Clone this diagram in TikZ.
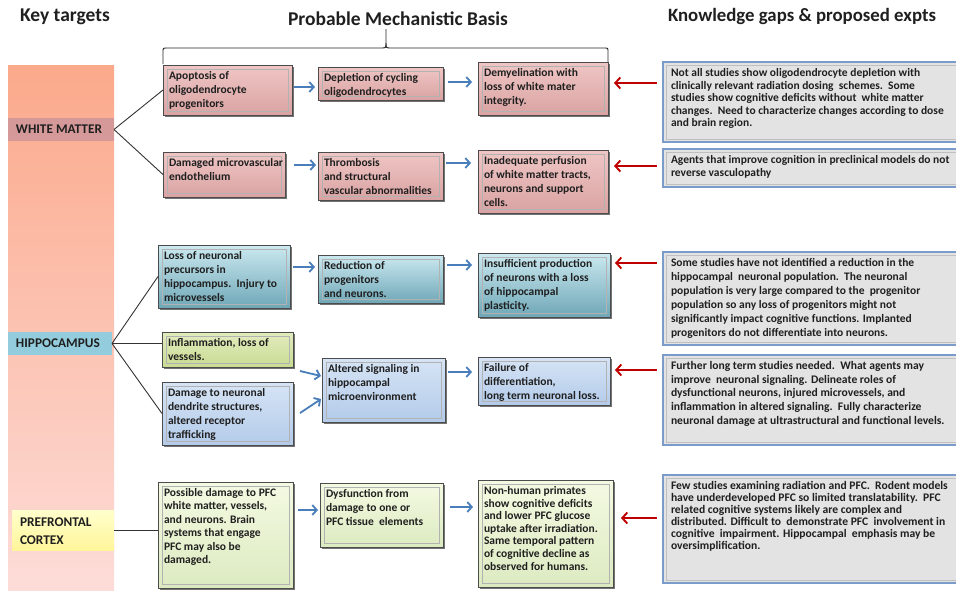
\documentclass[tikz,border=0pt]{standalone}
\usepackage{fontspec}
\setmainfont{Carlito}
\usetikzlibrary{arrows.meta,shadows,fit}
\definecolor{pinkT}{HTML}{EFC6C5}
\definecolor{pinkB}{HTML}{D9A3A2}
\definecolor{tealT}{HTML}{CBE9F0}
\definecolor{tealB}{HTML}{6FA7B7}
\definecolor{lbT}{HTML}{D6E4F5}
\definecolor{lbB}{HTML}{B3CBEA}
\definecolor{ygT}{HTML}{E2EDBE}
\definecolor{ygB}{HTML}{C9DB93}
\definecolor{pgT}{HTML}{F4FAE3}
\definecolor{pgB}{HTML}{DCEAC0}
\definecolor{grayfill}{HTML}{E3E3E3}
\definecolor{grayedge}{HTML}{7B9BCB}
\definecolor{arrblue}{HTML}{4A7EBB}
\definecolor{arrred}{HTML}{C00000}
\definecolor{barT}{HTML}{FBA98B}
\definecolor{barB}{HTML}{FDDCD8}
\definecolor{wmband}{HTML}{D6999A}
\definecolor{hpband}{HTML}{93CDDD}
\definecolor{pfT}{HTML}{FFFFCC}
\definecolor{pfB}{HTML}{FFF59A}
\definecolor{txt}{HTML}{1F1F1F}

\tikzset{
 every node/.style={inner sep=0pt, outer sep=0pt},
 boxbase/.style={draw=black!70, line width=0.8pt, drop shadow={shadow xshift=2.2pt, shadow yshift=-2.2pt, opacity=0.55, fill=black}},
 pinkbox/.style={boxbase, top color=pinkT, bottom color=pinkB},
 tealbox/.style={boxbase, top color=tealT, bottom color=tealB},
 lbbox/.style={boxbase, top color=lbT, bottom color=lbB},
 ygbox/.style={boxbase, top color=ygT, bottom color=ygB},
 pgbox/.style={boxbase, top color=pgT, bottom color=pgB},
 gapbox/.style={fill=grayfill, draw=grayedge, line width=1.4pt, drop shadow={shadow xshift=1pt, shadow yshift=-1pt, opacity=0.3, fill=black}},
 innerline/.style={draw=black!30, line width=0.5pt},
 ginnerline/.style={draw=black!25, line width=0.5pt},
 btxt/.style={anchor=north west, align=left, text=txt},
 bluearr/.style={draw=arrblue, line width=1.8pt, -{Straight Barb[length=4.5pt,width=10pt]}},
 redarr/.style={draw=arrred, line width=1.9pt, -{Straight Barb[length=5pt,width=11pt]}},
 link/.style={draw=black!80, line width=0.9pt},
 brace/.style={draw=black!85, line width=0.9pt},
 head/.style={font=\fontsize{19.5}{22}\selectfont\bfseries, text=txt},
 lab/.style={anchor=west, align=left, font=\fontsize{13.3}{18}\selectfont\bfseries, text=txt},
}

% name, style, x1, y1, x2, y2, baselineskip, text
\newcommand{\bx}[8]{%
 \node[#2, fit={(#3,#4) (#5,#6)}] (#1) {};
 \draw[innerline] ([shift={(4,4)}]#1.north west) rectangle ([shift={(-4,-4)}]#1.south east);
 \node[btxt, font=\fontsize{11.5}{#7}\selectfont\bfseries] (#1t) at ([shift={(6,6.5)}]#1.north west) {#8};
}
\newcommand{\gx}[6]{%
 \node[gapbox, fit={(663,#2) (962,#3)}] (#1) {};
 \draw[ginnerline] ([shift={(3,3)}]#1.north west) rectangle ([shift={(-3,-3)}]#1.south east);
 \node[btxt, font=\fontsize{#4}{#5}\selectfont\bfseries] (#1t) at ([shift={(8,6.5)}]#1.north west) {#6};
}

\begin{document}
\begin{tikzpicture}[x=1pt,y=-1pt]
\path[fill=white,use as bounding box] (0,0) rectangle (956,592);

% headings
\node[head] (h1) at (65,17) {Key targets};
\node[head] (h2) at (398,19) {Probable Mechanistic Basis};
\node[head, font=\fontsize{18.8}{22}\selectfont\bfseries] (h3) at (802,16) {Knowledge gaps \& proposed expts};

% brace
\draw[brace] (163,64) -- (163,52) .. controls (163,48) .. (167,48) -- (381,48) .. controls (386,48) .. (386,43) -- (386,29);
\draw[brace] (386,43) .. controls (386,48) .. (391,48) -- (604,48) .. controls (608,48) .. (608,52) -- (608,64);

% left bar and labels
\node[fit={(8,65) (114,590)}, top color=barT, bottom color=barB] (bar) {};
\node[fit={(8,118) (114,141)}, fill=wmband] (wmb) {};
\node[lab] (wm) at (16,129.5) {WHITE MATTER};
\node[fit={(8,332) (112,355)}, fill=hpband] (hpb) {};
\node[lab] (hp) at (16,343.5) {HIPPOCAMPUS};
\node[fit={(12,510) (114,550)}, top color=pfT, bottom color=pfB] (pfb) {};
\node[lab] (pf) at (20,531) {PREFRONTAL\\CORTEX};

% white matter boxes
\bx{a1}{pinkbox}{163}{65}{292}{115}{14}{Apoptosis of\\oligodendrocyte\\progenitors}
\bx{a2}{pinkbox}{318}{67}{443}{100}{14}{Depletion of cycling\\oligodendrocytes}
\bx{a3}{pinkbox}{478}{62}{608}{115}{14}{Demyelination with\\loss of white mater\\integrity.}
\bx{b1}{pinkbox}{163}{152}{285}{197}{14}{Damaged microvascular\\endothelium}
\bx{b2}{pinkbox}{318}{152}{443}{200}{14}{Thrombosis\\and structural\\vascular abnormalities}
\bx{b3}{pinkbox}{478}{150}{608}{213}{14}{Inadequate perfusion\\of white matter tracts,\\neurons and support\\cells.}

% hippocampus boxes
\bx{c1}{tealbox}{158}{245}{290}{308}{14}{Loss of neuronal\\precursors in\\hippocampus.\ \ Injury to\\microvessels}
\bx{c2}{tealbox}{318}{255}{443}{303}{14}{Reduction of\\progenitors\\and neurons.}
\bx{c3}{tealbox}{478}{253}{610}{317}{14}{Insufficient production\\of neurons with a loss\\of hippocampal\\plasticity.}
\bx{d1}{ygbox}{162}{332}{293}{367}{14}{Inflammation, loss of\\vessels.}
\bx{d2}{lbbox}{162}{382}{293}{445}{14}{Damage to neuronal\\dendrite structures,\\altered receptor\\trafficking}
\bx{d3}{lbbox}{322}{358}{445}{422}{14}{Altered signaling in\\hippocampal\\microenvironment}
\bx{d4}{lbbox}{478}{357}{610}{405}{14}{Failure of\\differentiation,\\long term neuronal loss.}

% PFC boxes
\bx{e1}{pgbox}{158}{482}{293}{588}{13.4}{Possible damage to PFC\\white matter, vessels,\\and neurons. Brain\\systems that engage\\PFC may also be\\damaged.}
\bx{e2}{pgbox}{320}{483}{443}{547}{14}{Dysfunction from\\damage to one or\\PFC tissue\ \ elements}
\bx{e3}{pgbox}{478}{480}{613}{587}{12.6}{Non-human primates\\show cognitive deficits\\and lower PFC glucose\\uptake after irradiation.\\Same temporal pattern\\of cognitive decline as\\observed for humans.}

% knowledge gap boxes
\gx{g1}{62}{142}{11.5}{12.6}{Not all studies show oligodendrocyte depletion with\\clinically relevant radiation dosing\ \ schemes.\ \ Some\\studies show cognitive deficits without\ \ white matter\\changes.\ \ Need to characterize changes according to dose\\and brain region.}
\gx{g2}{149}{187}{11.5}{13.3}{Agents that improve cognition in preclinical models do not\\reverse vasculopathy}
\gx{g3}{252}{345}{11.5}{14}{Some studies have not identified a reduction in the\\hippocampal\ \ neuronal population.\ \ The neuronal\\population is very large compared to the\ \ progenitor\\population so any loss of progenitors might not\\significantly impact cognitive functions. Implanted\\progenitors do not differentiate into neurons.}
\gx{g4}{355}{445}{11.6}{13.6}{Further long term studies needed.\ \ What agents may\\improve\ \ neuronal signaling. Delineate roles of\\dysfunctional neurons, injured microvessels, and\\inflammation in altered signaling.\ \ Fully characterize\\neuronal damage at ultrastructural and functional levels.}
\gx{g5}{475}{583}{11.6}{12}{Few studies examining radiation and PFC.\ \ Rodent models\\have underdeveloped PFC so limited translatability.\ \ PFC\\related cognitive systems likely are complex and\\distributed. Difficult to\ \ demonstrate PFC\ \ involvement in\\cognitive\ \ impairment. Hippocampal\ \ emphasis may be\\oversimplification.}

% connector lines
\draw[link] (wmb.east) -- (a1.west);
\draw[link] (wmb.east) -- (b1.west);
\draw[link] (hpb.east) -- (c1.west);
\draw[link] (hpb.east) -- (d1.west |- hpb.east);
\draw[link] (hpb.east) -- (d2.west);
\draw[link] (pfb.east) -- (e1.west |- pfb.east);

% row coordinates
\coordinate (r1a) at (0,87);
\coordinate (r1b) at (0,82);
\coordinate (r1r) at (0,83);
\coordinate (r2a) at (0,165);
\coordinate (r2b) at (0,163);
\coordinate (r2r) at (0,166);
\coordinate (r3a) at (0,267);
\coordinate (r3b) at (0,265);
\coordinate (r3r) at (0,263);
\coordinate (r4b) at (0,372);
\coordinate (r4r) at (0,370);
\coordinate (r5a) at (0,510);
\coordinate (r5b) at (0,507);
\coordinate (r5r) at (0,518);

% blue arrows
\draw[bluearr, shorten <=2pt, shorten >=3pt] (a1.east |- r1a) -- (a2.west |- r1a);
\draw[bluearr, shorten <=5pt, shorten >=6pt] (a2.east |- r1b) -- (a3.west |- r1b);
\draw[bluearr, shorten <=9pt, shorten >=2pt] (b1.east |- r2a) -- (b2.west |- r2a);
\draw[bluearr, shorten <=3pt, shorten >=7pt] (b2.east |- r2b) -- (b3.west |- r2b);
\draw[bluearr, shorten <=3pt, shorten >=3pt] (c1.east |- r3a) -- (c2.west |- r3a);
\draw[bluearr, shorten <=4pt, shorten >=6pt] (c2.east |- r3b) -- (c3.west |- r3b);
\draw[bluearr] ([xshift=7pt,yshift=-4pt]d1.south east) -- ([xshift=-1pt,yshift=14pt]d3.west);
\draw[bluearr] ([xshift=7pt,yshift=-31pt]d2.north east) -- ([xshift=-1pt,yshift=-9pt]d3.west);
\draw[bluearr, shorten <=3pt, shorten >=6pt] (d3.east |- r4b) -- (d4.west |- r4b);
\draw[bluearr, shorten <=5pt, shorten >=2pt] (e1.east |- r5a) -- (e2.west |- r5a);
\draw[bluearr, shorten <=7pt, shorten >=5pt] (e2.east |- r5b) -- (e3.west |- r5b);

% red arrows
\draw[redarr, shorten <=6pt, shorten >=6pt] (g1.west |- r1r) -- (a3.east |- r1r);
\draw[redarr, shorten <=6pt, shorten >=6pt] (g2.west |- r2r) -- (b3.east |- r2r);
\draw[redarr, shorten <=6pt, shorten >=5pt] (g3.west |- r3r) -- (c3.east |- r3r);
\draw[redarr, shorten <=6pt, shorten >=5pt] (g4.west |- r4r) -- (d4.east |- r4r);
\draw[redarr, shorten <=6pt, shorten >=8pt] (g5.west |- r5r) -- (e3.east |- r5r);
\end{tikzpicture}
\end{document}
